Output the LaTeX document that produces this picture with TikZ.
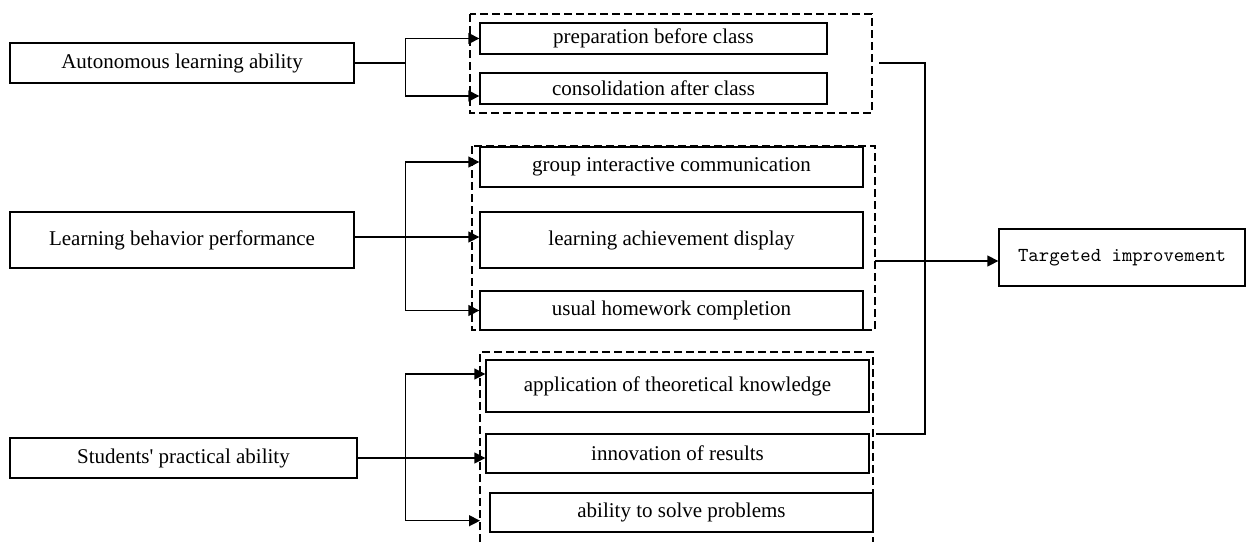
\documentclass[tikz,border=0pt]{standalone}
\usepackage{fontspec}
\setmainfont{Liberation Serif}
\usetikzlibrary{arrows.meta}
\begin{document}
\begin{tikzpicture}[x=0.5pt,y=-0.5pt,
  box/.style={draw, line width=0.65pt, inner sep=0pt, font=\fontsize{10.5}{12}\selectfont},
  link/.style={line width=0.65pt},
  arr/.style={link, -{Triangle[length=5.5pt,width=5.5pt]}},
  frame/.style={dash pattern=on 4pt off 2pt, line width=0.65pt}]
\useasboundingbox (0,0) rectangle (1246,542);

% factors on the left
\node[box, minimum width=172pt,   minimum height=20pt] (A) at (182,63)    {Autonomous learning ability};
\node[box, minimum width=172pt,   minimum height=28pt] (B) at (182,240)   {Learning behavior performance};
\node[box, minimum width=173.5pt, minimum height=20pt] (C) at (183.5,458) {Students\textquotesingle{} practical ability};

% first group
\node[box, minimum width=173.5pt, minimum height=15.5pt] (P1) at (653.5,38.5) {preparation before class};
\node[box, minimum width=173.5pt, minimum height=15.5pt] (P2) at (653.5,88.5) {consolidation after class};

% second group
\node[box, minimum width=191.5pt, minimum height=20pt]   (G1) at (671.5,167)   {group interactive communication};
\node[box, minimum width=191.5pt, minimum height=28pt]   (G2) at (671.5,240)   {learning achievement display};
\node[box, minimum width=191.5pt, minimum height=19.5pt] (G3) at (671.5,310.5) {usual homework completion};

% third group
\node[box, minimum width=191.5pt, minimum height=26pt]   (H1) at (677.5,386)   {application of theoretical knowledge};
\node[box, minimum width=191.5pt, minimum height=19.5pt] (H2) at (677.5,453.5) {innovation of results};
\node[box, minimum width=191.5pt, minimum height=19.5pt] (H3) at (681.5,512.5) {ability to solve problems};

% result
\node[box, minimum width=123pt, minimum height=28.5pt, font=\ttfamily\fontsize{9.9}{11}\selectfont] (T) at (1122,257.5) {Targeted improvement};

% dashed group frames
\draw[frame] (470,14) rectangle (872,113);
\draw[frame] (472,146) rectangle (875,330);
\draw[frame] (480,542) |- (873,352) -- (873,542);

% junction points
\coordinate (jA) at (405.7,63);
\coordinate (jB) at (405.7,237);
\coordinate (jC) at (405.7,458);
\coordinate (fC) at (480,520.7);

% branches of the first factor
\draw[link] (A.east) -- (jA);
\draw[arr] (jA) |- (P1.west);
\draw[arr] (jA) |- ([yshift=-3.75pt]P2.west);

% branches of the second factor
\draw[arr] ([yshift=1.5pt]B.east) -- (jB -| G2.west);
\draw[arr] (jB) |- ([yshift=2.5pt]G1.west);
\draw[arr] (jB) |- (G3.west);

% branches of the third factor
\draw[arr] (C.east) -- (C.east -| H2.west);
\draw[arr] (jC) |- ([yshift=6pt]H1.west);
\draw[arr] (jC) |- (fC);

% bracket joining the groups and the output arrow
\coordinate (oT) at (879,63);
\coordinate (oB) at (876,434);
\coordinate (bk) at (925,250);
\coordinate (oM) at (875,261);
\draw[link] (oT) -| (bk) |- (oB);
\draw[arr] (oM) -- (oM -| T.west);
\end{tikzpicture}
\end{document}
